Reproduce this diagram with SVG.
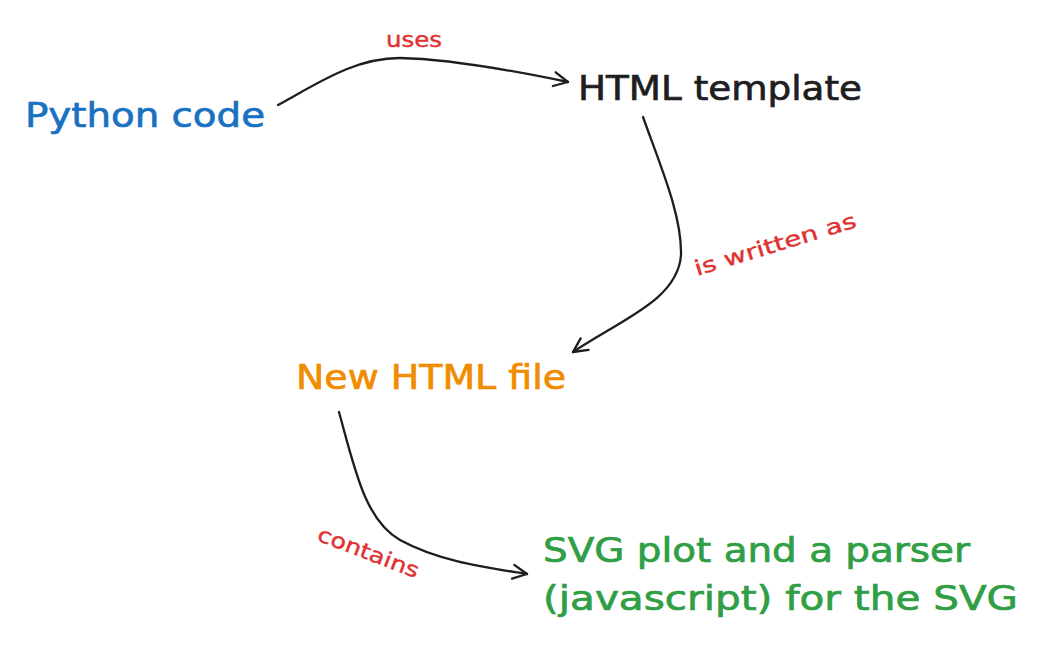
<svg xmlns="http://www.w3.org/2000/svg" width="1037" height="654" viewBox="0 0 1037 654">
<style>
.n{font-family:"DejaVu Sans","Noto Sans",sans-serif;font-size:34px;stroke-width:0.7px}
.l{font-family:"DejaVu Sans","Noto Sans",sans-serif;font-size:21px;fill:#e03131;stroke:#e03131;stroke-width:0.4px}
.c{fill:none;stroke:#1e1e1e;stroke-width:2.3;stroke-linecap:round}
</style>
<defs>
<marker id="ah" viewBox="0 0 20 20" refX="18" refY="10" markerWidth="20" markerHeight="20" markerUnits="userSpaceOnUse" orient="auto">
<path d="M4,3 L18,10 L4,17" fill="none" stroke="#1e1e1e" stroke-width="2.3" stroke-linecap="round" stroke-linejoin="round"/>
</marker>
</defs>
<rect width="1037" height="654" fill="#ffffff"/>
<g id="connectors">
<path class="c" marker-end="url(#ah)" d="M278,105 C320,82 355,58 400,58 C450,59 520,72 568,82"/>
<path class="c" marker-end="url(#ah)" d="M643,117 C660,165 682,215 681,255 C678,300 620,320 573,352"/>
<path class="c" marker-end="url(#ah)" d="M339,412 C355,470 365,520 400,540 C440,562 490,568 527,574"/>
<text class="l" x="414" y="47" text-anchor="middle" textLength="56" lengthAdjust="spacingAndGlyphs">uses</text>
<text class="l" transform="translate(697,276) rotate(-17)" textLength="168" lengthAdjust="spacingAndGlyphs">is written as</text>
<text class="l" transform="translate(316,540) rotate(21)" textLength="107" lengthAdjust="spacingAndGlyphs">contains</text>
</g>
<g id="python"><text class="n" x="25" y="127" fill="#1971c2" stroke="#1971c2" textLength="240" lengthAdjust="spacingAndGlyphs">Python code</text></g>
<g id="template"><text class="n" x="578" y="100" fill="#1e1e1e" stroke="#1e1e1e" textLength="284" lengthAdjust="spacingAndGlyphs">HTML template</text></g>
<g id="newfile"><text class="n" x="296" y="389" fill="#f08c00" stroke="#f08c00" textLength="270" lengthAdjust="spacingAndGlyphs">New HTML file</text></g>
<g id="svgplot">
<text class="n" x="543" y="562" fill="#2f9e44" stroke="#2f9e44" textLength="427" lengthAdjust="spacingAndGlyphs">SVG plot and a parser</text>
<text class="n" x="543" y="610" fill="#2f9e44" stroke="#2f9e44" textLength="475" lengthAdjust="spacingAndGlyphs">(javascript) for the SVG</text>
</g>
</svg>
